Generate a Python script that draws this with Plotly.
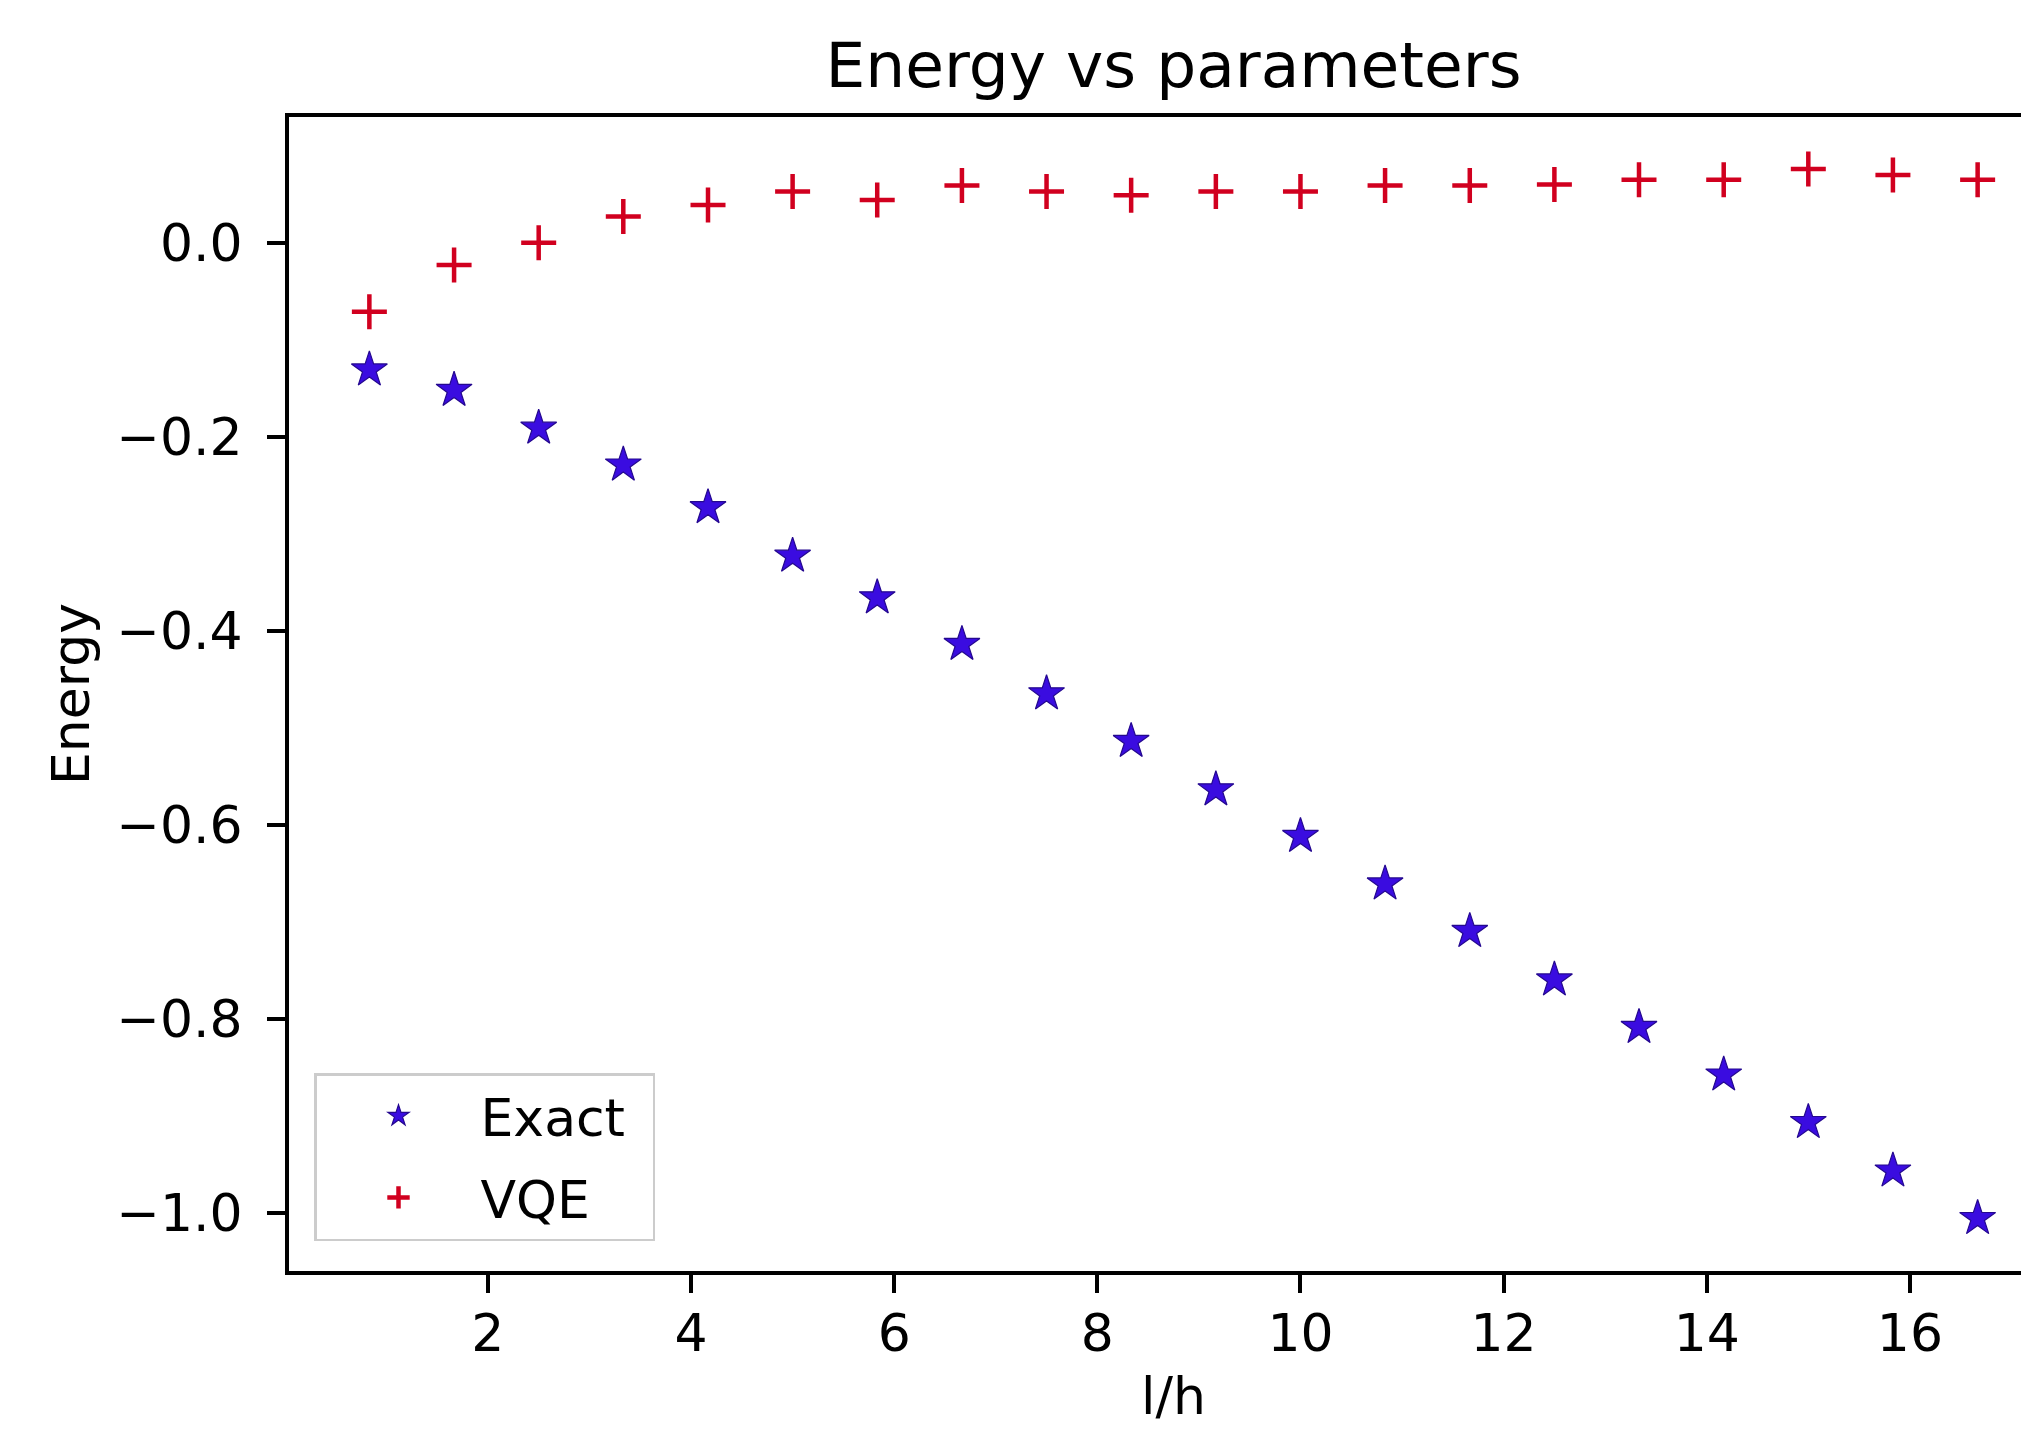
import plotly.graph_objects as go

# ---- data ----
l_over_h = [0.833, 1.667, 2.5, 3.333, 4.167, 5.0, 5.833, 6.667, 7.5, 8.333,
            9.167, 10.0, 10.833, 11.667, 12.5, 13.333, 14.167, 15.0, 15.833, 16.667]
exact_energy = [-0.131, -0.152, -0.191, -0.229, -0.273, -0.323, -0.366, -0.414, -0.465, -0.514,
                -0.564, -0.612, -0.661, -0.710, -0.760, -0.809, -0.858, -0.907, -0.957, -1.006]
vqe_energy = [-0.071, -0.023, 0.000, 0.027, 0.039, 0.053, 0.044, 0.059, 0.053, 0.049,
              0.053, 0.053, 0.059, 0.059, 0.060, 0.065, 0.065, 0.076, 0.070, 0.065]
x_ticks = [2, 4, 6, 8, 10, 12, 14, 16]
y_ticks = [-1.0, -0.8, -0.6, -0.4, -0.2, 0.0]

FONT = "DejaVu Sans"
W, H = 2021, 1429
L, R, T, B = 289, 0, 117, 158
PAD = "\u00a0\u200a"

fig = go.Figure()
fig.add_trace(go.Scatter(
    x=l_over_h, y=exact_energy, mode="markers", name="Exact" + PAD, legendgroup="a",
    marker=dict(symbol="star", size=27, color="#3a0ce0",
                line=dict(color="#24088f", width=1.2)),
))
fig.add_trace(go.Scatter(
    x=l_over_h, y=vqe_energy, mode="markers", name="VQE", legendgroup="b",
    marker=dict(symbol="cross-thin", size=25, color="#d1001f",
                line=dict(color="#d1001f", width=4.5)),
))

axis_common = dict(
    showgrid=False, zeroline=False, showline=True, linecolor="black", linewidth=4,
    ticks="outside", ticklen=18, tickwidth=3.5, tickcolor="black",
    tickfont=dict(family=FONT, size=52, color="black"),
)

fig.update_xaxes(
    range=[0.0417, 0.0417 + (W - L) / 101.57],
    tickvals=x_ticks, ticktext=[str(v) for v in x_ticks],
    mirror=True, ticklabelstandoff=-4, **axis_common,
)
fig.update_yaxes(
    range=[-1.0603, 0.1297],
    tickvals=y_ticks, tickformat=".1f",
    mirror=False, ticklabelstandoff=14,
    title=dict(text="Energy", font=dict(family=FONT, size=52, color="black"), standoff=11),
    **axis_common,
)

center_paper = (1173.5 - L) / (W - L - R)

fig.update_layout(
    width=W, height=H,
    margin=dict(l=L, r=R, t=T, b=B, pad=0),
    paper_bgcolor="white", plot_bgcolor="white",
    font=dict(family=FONT, color="black"),
    title=dict(text="Energy vs parameters", font=dict(family=FONT, size=63, color="black"),
               xref="paper", x=center_paper, xanchor="center",
               yref="container", y=1 - 65 / H, yanchor="middle"),
    legend=dict(
        x=(314 - L) / (W - L), y=(1271 - 1241) / (H - T - B),
        xanchor="left", yanchor="bottom",
        font=dict(family=FONT, size=52, color="black"),
        bordercolor="#cccccc", borderwidth=2.5, bgcolor="white",
        itemwidth=154, tracegroupgap=11, traceorder="grouped",
    ),
    showlegend=True,
)

fig.add_annotation(
    text="l/h", xref="paper", yref="paper",
    x=center_paper, y=(1271 - 1396) / (H - T - B),
    xanchor="center", yanchor="middle", showarrow=False,
    font=dict(family=FONT, size=52, color="black"),
)

fig.write_html("out.html")
